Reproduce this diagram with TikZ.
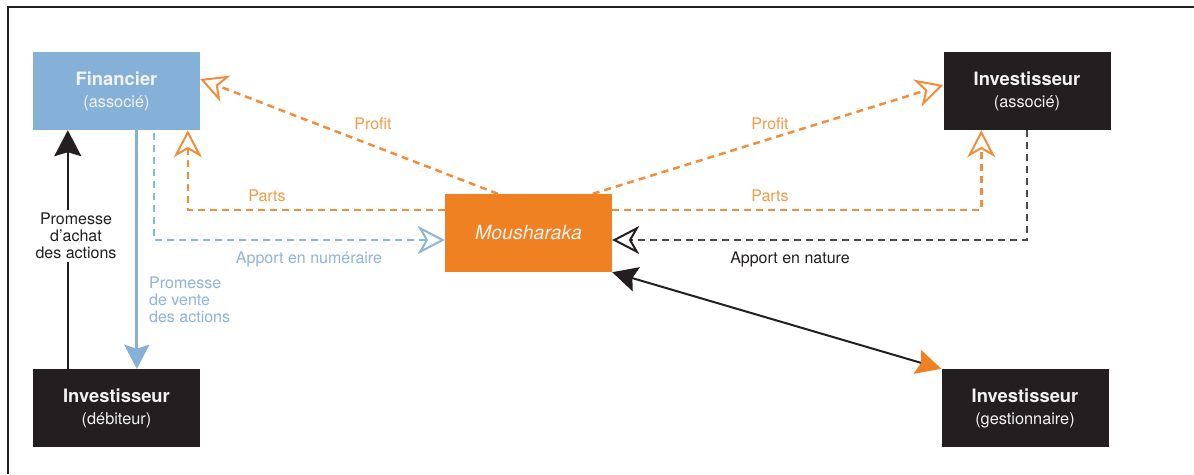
\documentclass[tikz,border=0pt]{standalone}
\usepackage{fontspec}
\setmainfont{TeX Gyre Heros}
\usetikzlibrary{arrows.meta,calc}

\definecolor{finblue}{HTML}{85B1D9}
\definecolor{lineblue}{HTML}{8DB6DC}
\definecolor{txtblue}{HTML}{8FB4DC}
\definecolor{darkbox}{HTML}{231F20}
\definecolor{mouorange}{HTML}{F08122}
\definecolor{dashorange}{HTML}{F28E3A}
\definecolor{txtorange}{HTML}{F39A45}
\definecolor{dashgray}{HTML}{4A4A4A}
\definecolor{boxtext}{HTML}{F2F2F2}

\tikzset{
  x=1pt, y=-1pt,
  box/.style={rectangle, minimum width=167pt, minimum height=78pt, inner sep=0pt,
    align=center, text=boxtext, font=\fontsize{16.3}{22}\selectfont},
  fincolor/.style={fill=finblue},
  darkcolor/.style={fill=darkbox},
  moucolor/.style={fill=mouorange},
  lbl/.style={inner sep=1pt, font=\fontsize{16}{17}\selectfont},
  orangedash/.style={draw=dashorange, line width=2.5pt, dash pattern=on 7pt off 5pt},
  bluedash/.style={draw=lineblue, line width=2.3pt, dash pattern=on 7pt off 5pt},
  graydash/.style={draw=dashgray, line width=2.5pt, dash pattern=on 7pt off 5pt},
  openhead/.style={-{Stealth[open, length=27pt, width=28pt, inset=8pt, line width=2pt]}},
}

\begin{document}
\begin{tikzpicture}
  \useasboundingbox (0,0) rectangle (1194,474);
  \fill[white] (0,0) rectangle (1194,474);

  % outer frame (top and left edges)
  \draw[darkbox, line width=2pt] (8,474) -- (8,6.5) -- (1194,6.5);

  % boxes
  \node[box, fincolor] (fin) at (116.5,91)
    {{\bfseries\fontsize{18.4}{22}\selectfont Financier}\\(associé)};
  \node[box, darkcolor] (deb) at (116.5,408)
    {{\bfseries\fontsize{18.4}{22}\selectfont Investisseur}\\(débiteur)};
  \node[box, moucolor] (mou) at (528.5,233)
    {\itshape\fontsize{19.5}{22}\selectfont Mousharaka};
  \node[box, darkcolor] (asso) at (1027,91)
    {{\bfseries\fontsize{18.4}{22}\selectfont Investisseur}\\(associé)};
  \node[box, darkcolor] (gest) at (1025,408)
    {{\bfseries\fontsize{18.4}{22}\selectfont Investisseur}\\(gestionnaire)};

  % promise to buy (black, upward)
  \draw[darkbox, line width=2pt, -{Stealth[length=26pt, width=27pt, inset=4pt]}]
    ($(deb.north west)+(35,0)$) -- ($(fin.south west)+(35,0)$);
  \node[lbl, fill=white, text=darkbox, align=center, inner ysep=3pt] (achat) at (76,236)
    {Promesse\\d'achat\\des actions};

  % promise to sell (blue, downward)
  \draw[finblue, line width=3pt, -{Stealth[length=24pt, width=25pt, inset=4pt]}]
    ($(fin.south west)+(104,0)$) -- ($(deb.north west)+(104,0)$);
  \node[lbl, text=txtblue, align=left, anchor=north west] (vente) at (148,276)
    {Promesse\\de vente\\des actions};

  % cash contribution
  \draw[bluedash, -{Stealth[open, length=27pt, width=28pt, inset=8pt, line width=2pt, lineblue]}]
    ($(fin.south west)+(121,3)$) |- ($(mou.west)+(0,7)$);
  \node[lbl, text=txtblue] (numer) at (309,259) {Apport en numéraire};

  % contribution in kind
  \draw[graydash, -{Stealth[open, length=27pt, width=28pt, inset=8pt, line width=2pt, darkbox]}]
    (asso.south) |- ($(mou.east)+(0,7)$);
  \node[lbl, text=darkbox] (nature) at (790,259) {Apport en nature};

  % shares
  \draw[orangedash, openhead]
    ($(mou.west)+(0,-23)$) -| ($(fin.south west)+(155,0)$);
  \node[lbl, text=txtorange] (partsL) at (267,196) {Parts};
  \draw[orangedash, openhead]
    ($(mou.east)+(0,-23)$) -| ($(asso.south west)+(38,0)$);
  \node[lbl, text=txtorange] (partsR) at (770,196) {Parts};

  % profit
  \draw[orangedash, openhead]
    ($(mou.north west)+(53,0)$) -- ($(fin.east)+(0,-12)$);
  \node[lbl, text=txtorange] (profitL) at (373,124) {Profit};
  \draw[orangedash, openhead]
    ($(mou.north west)+(148,0)$) -- ($(asso.west)+(0,-6)$);
  \node[lbl, text=txtorange] (profitR) at (770,124) {Profit};

  % management link
  \draw[darkbox, line width=2pt,
    {Stealth[length=25pt, width=25pt, inset=4pt]}-{Stealth[length=25pt, width=25pt, inset=4pt, mouorange]}]
    (mou.south east) -- (gest.north west);
\end{tikzpicture}
\end{document}
